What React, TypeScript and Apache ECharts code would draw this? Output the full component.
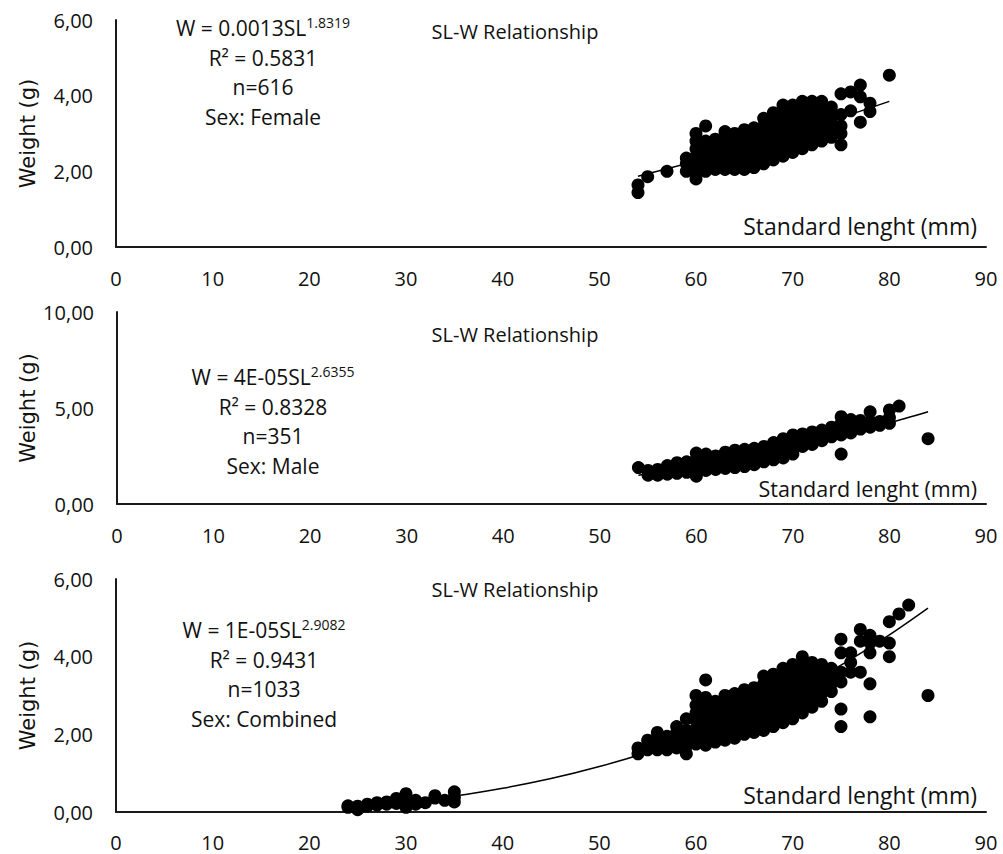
import React, { useEffect, useRef } from "react";
import * as echarts from "echarts";

// ---------- DATA ----------
const xTicksMax = 90;

// Female: [standard length, [weights...]]
const femaleCols: [number, number[]][] = [
  [54, [1.44, 1.64]],
  [55, [1.86]],
  [57, [2.0]],
  [59, [2.0, 2.2, 2.35]],
  [60, [1.8, 2.0, 2.2, 2.4, 2.6, 2.8, 3.0]],
  [61, [2.0, 2.2, 2.4, 2.6, 2.8, 3.2]],
  [62, [2.05, 2.25, 2.45, 2.65, 2.85]],
  [63, [2.05, 2.25, 2.45, 2.65, 2.85, 3.05]],
  [64, [2.05, 2.25, 2.45, 2.65, 2.85, 3.0]],
  [65, [2.05, 2.25, 2.45, 2.65, 2.85, 3.1]],
  [66, [2.1, 2.3, 2.5, 2.7, 2.9, 3.15]],
  [67, [2.2, 2.4, 2.6, 2.8, 3.0, 3.2, 3.4]],
  [68, [2.3, 2.5, 2.7, 2.9, 3.1, 3.3, 3.55]],
  [69, [2.4, 2.6, 2.8, 3.0, 3.2, 3.4, 3.6, 3.75]],
  [70, [2.5, 2.7, 2.9, 3.1, 3.3, 3.5, 3.75]],
  [71, [2.6, 2.8, 3.0, 3.2, 3.4, 3.6, 3.85]],
  [72, [2.7, 2.9, 3.1, 3.3, 3.5, 3.7, 3.85]],
  [73, [2.8, 3.0, 3.2, 3.4, 3.6, 3.85]],
  [74, [2.9, 3.1, 3.3, 3.5, 3.7]],
  [75, [2.7, 3.0, 3.2, 3.5, 4.05]],
  [76, [3.6, 4.1]],
  [77, [3.3, 3.97, 4.28]],
  [78, [3.58, 3.8]],
  [80, [4.54]],
];

const maleCols: [number, number[]][] = [
  [54, [1.9]],
  [55, [1.5, 1.75]],
  [56, [1.5, 1.8]],
  [57, [1.55, 1.8, 2.0]],
  [58, [1.6, 1.9, 2.15]],
  [59, [1.65, 1.95, 2.2]],
  [60, [1.45, 1.75, 2.05, 2.35, 2.65]],
  [61, [1.75, 2.05, 2.35, 2.6]],
  [62, [1.8, 2.1, 2.4, 2.5]],
  [63, [1.85, 2.15, 2.45, 2.7]],
  [64, [1.9, 2.2, 2.5, 2.8]],
  [65, [1.95, 2.25, 2.55, 2.85]],
  [66, [2.05, 2.35, 2.65, 2.9]],
  [67, [2.2, 2.5, 2.8, 3.0]],
  [68, [2.3, 2.6, 2.9, 3.2]],
  [69, [2.4, 2.7, 3.0, 3.4]],
  [70, [2.6, 2.9, 3.2, 3.6]],
  [71, [3.0, 3.3, 3.65]],
  [72, [3.1, 3.4, 3.75]],
  [73, [3.3, 3.6, 3.85]],
  [74, [3.5, 3.8, 4.0]],
  [75, [2.6, 3.6, 3.9, 4.2, 4.55]],
  [76, [3.7, 4.0, 4.4]],
  [77, [3.9, 4.35]],
  [78, [4.0, 4.3, 4.8]],
  [79, [4.1, 4.3]],
  [80, [4.2, 4.5, 4.9]],
  [81, [5.1]],
  [84, [3.4]],
];

const combinedCols: [number, number[]][] = [
  [24, [0.12, 0.16]],
  [25, [0.06, 0.15]],
  [26, [0.15, 0.2]],
  [27, [0.18, 0.24]],
  [28, [0.2, 0.26]],
  [29, [0.22, 0.35]],
  [30, [0.12, 0.3, 0.47]],
  [31, [0.2, 0.3]],
  [32, [0.24]],
  [33, [0.36, 0.42]],
  [34, [0.3]],
  [35, [0.26, 0.38, 0.52]],
  [54, [1.5, 1.65]],
  [55, [1.6, 1.85]],
  [56, [1.6, 1.8, 2.05]],
  [57, [1.6, 1.8, 1.95]],
  [58, [1.65, 1.85, 2.05, 2.2]],
  [59, [1.5, 1.7, 1.9, 2.1, 2.4]],
  [60, [1.75, 1.95, 2.15, 2.35, 2.55, 2.75, 3.0]],
  [61, [1.72, 1.9, 2.1, 2.3, 2.5, 2.7, 2.95, 3.4]],
  [62, [1.8, 2.0, 2.2, 2.4, 2.6, 2.85]],
  [63, [1.85, 2.05, 2.25, 2.45, 2.65, 2.85, 3.0]],
  [64, [1.9, 2.1, 2.3, 2.5, 2.7, 2.9, 3.05]],
  [65, [2.0, 2.2, 2.4, 2.6, 2.8, 3.0, 3.15]],
  [66, [2.05, 2.25, 2.45, 2.65, 2.85, 3.05, 3.2]],
  [67, [2.1, 2.3, 2.5, 2.7, 2.9, 3.1, 3.3, 3.5]],
  [68, [2.2, 2.4, 2.6, 2.8, 3.0, 3.2, 3.4, 3.55]],
  [69, [2.3, 2.5, 2.7, 2.9, 3.1, 3.3, 3.5, 3.7]],
  [70, [2.4, 2.6, 2.8, 3.0, 3.2, 3.4, 3.6, 3.8]],
  [71, [2.55, 2.75, 2.95, 3.15, 3.35, 3.55, 3.75, 4.0]],
  [72, [2.7, 2.9, 3.1, 3.3, 3.5, 3.7, 3.85]],
  [73, [2.85, 3.05, 3.25, 3.45, 3.65, 3.8]],
  [74, [3.1, 3.3, 3.5, 3.7]],
  [75, [2.2, 2.65, 3.35, 3.6, 4.1, 4.45]],
  [76, [3.6, 3.85, 4.1]],
  [77, [3.6, 4.4, 4.7]],
  [78, [2.45, 3.3, 4.1, 4.35, 4.55]],
  [79, [4.4]],
  [80, [4.0, 4.35, 4.9]],
  [81, [5.1]],
  [82, [5.33]],
  [84, [3.0]],
];

// Power trend lines
const femaleTrend: number[][] = [[54, 1.87], [60, 2.27], [65, 2.63], [70, 3.01], [75, 3.42], [80, 3.85]];
const maleTrend: number[][] = [[54, 1.5], [60, 1.98], [65, 2.44], [70, 2.97], [75, 3.56], [80, 4.22], [84, 4.8]];
const combinedTrend: number[][] = [
  [24, 0.14], [30, 0.27], [35, 0.41], [40, 0.61], [45, 0.86], [50, 1.17], [55, 1.54],
  [60, 1.98], [65, 2.49], [70, 3.09], [75, 3.78], [80, 4.56], [84, 5.25],
];

const yMaxes = [6, 10, 6];
const yIntervals = [2, 5, 2];
const equations = ["W = 0.0013SL", "W = 4E-05SL", "W = 1E-05SL"];
const exponents = ["1.8319", "2.6355", "2.9082"];
const rSquares = ["R² = 0.5831", "R² = 0.8328", "R² = 0.9431"];
const counts = ["n=616", "n=351", "n=1033"];
const sexes = ["Sex: Female", "Sex: Male", "Sex: Combined"];
const chartTitle = "SL-W Relationship";
const xName = "Standard lenght (mm)";
const yName = "Weight (g)";

// ---------- LAYOUT ----------
const FONT = '"Open Sans", sans-serif';
const TXT = "#111";
const grids = [
  { left: 116, top: 20, width: 870, height: 227 },
  { left: 117, top: 312, width: 869, height: 192 },
  { left: 116, top: 579, width: 870, height: 233 },
];
const titleY = [31, 334, 589];
const annX = [263, 273, 264];
const annY0 = [28, 377, 630];
const annStep = 29.5;
const xNameY = [226, 488, 795];
const xNameSize = [23, 21.5, 23];
const xLabelMargin = [21, 21, 20];

const flatten = (cols: [number, number[]][]) =>
  cols.flatMap(([x, ys]) => ys.map((y) => [x, y]));

const colsList = [femaleCols, maleCols, combinedCols];
const trends = [femaleTrend, maleTrend, combinedTrend];

function buildOption() {
  const graphic: any[] = [];
  for (let p = 0; p < 3; p++) {
    const g = grids[p];
    graphic.push({
      type: "text",
      x: 515,
      y: titleY[p],
      style: { text: chartTitle, fontFamily: FONT, fontSize: 20, fill: TXT, align: "center", verticalAlign: "middle" },
    });
    graphic.push({
      type: "text",
      x: annX[p],
      y: annY0[p],
      style: {
        text: `{a|${equations[p]}}{b|${exponents[p]}}`,
        align: "center",
        verticalAlign: "middle",
        rich: {
          a: { fontFamily: FONT, fontSize: 21, fill: TXT, lineHeight: 26 },
          b: { fontFamily: FONT, fontSize: 14, fill: TXT, verticalAlign: "top", lineHeight: 16 },
        },
      },
    });
    [rSquares[p], counts[p], sexes[p]].forEach((t, i) => {
      graphic.push({
        type: "text",
        x: annX[p],
        y: annY0[p] + annStep * (i + 1),
        style: { text: t, fontFamily: FONT, fontSize: 21, fill: TXT, align: "center", verticalAlign: "middle" },
      });
    });
    graphic.push({
      type: "text",
      x: 977,
      y: xNameY[p],
      style: { text: xName, fontFamily: FONT, fontSize: xNameSize[p], fill: TXT, align: "right", verticalAlign: "middle" },
    });
    graphic.push({
      type: "text",
      x: 28,
      y: g.top + g.height / 2,
      rotation: Math.PI / 2,
      style: { text: yName, fontFamily: '"DejaVu Sans", sans-serif', fontSize: 21, fill: TXT, align: "center", verticalAlign: "middle" },
    });
  }

  const axisLine = { show: true, lineStyle: { color: "#1a1a1a", width: 2 } };
  return {
    animation: false,
    backgroundColor: "#fff",
    grid: grids,
    xAxis: grids.map((_, i) => ({
      type: "value",
      gridIndex: i,
      min: 0,
      max: xTicksMax,
      interval: 10,
      axisLine,
      axisTick: { show: false },
      splitLine: { show: false },
      axisLabel: { fontFamily: FONT, fontSize: 20, lineHeight: 20, color: TXT, margin: xLabelMargin[i] },
    })),
    yAxis: grids.map((_, i) => ({
      type: "value",
      gridIndex: i,
      min: 0,
      max: yMaxes[i],
      interval: yIntervals[i],
      axisLine,
      axisTick: { show: false },
      splitLine: { show: false },
      axisLabel: {
        fontFamily: FONT,
        fontSize: 20,
        color: TXT,
        margin: 23,
        formatter: (v: number) => v.toFixed(2).replace(".", ","),
      },
    })),
    series: [
      ...colsList.map((cols, i) => ({
        type: "scatter",
        xAxisIndex: i,
        yAxisIndex: i,
        data: flatten(cols),
        symbol: "circle",
        symbolSize: 13,
        itemStyle: { color: "#000", opacity: 1 },
        silent: true,
        z: 2,
      })),
      ...trends.map((t, i) => ({
        type: "line",
        xAxisIndex: i,
        yAxisIndex: i,
        data: t,
        smooth: 0.3,
        showSymbol: false,
        lineStyle: { color: "#000", width: 1.5 },
        silent: true,
        z: 3,
      })),
    ],
    graphic,
  };
}

export default function App() {
  const ref = useRef<HTMLDivElement>(null);
  useEffect(() => {
    const chart = echarts.init(ref.current!, null, { renderer: "svg" });
    chart.setOption(buildOption() as any);
    return () => chart.dispose();
  }, []);
  return (
    <div
      ref={ref}
      style={{ position: "absolute", left: 0, top: 0, width: 1003, height: 854, background: "#fff" }}
    />
  );
}
